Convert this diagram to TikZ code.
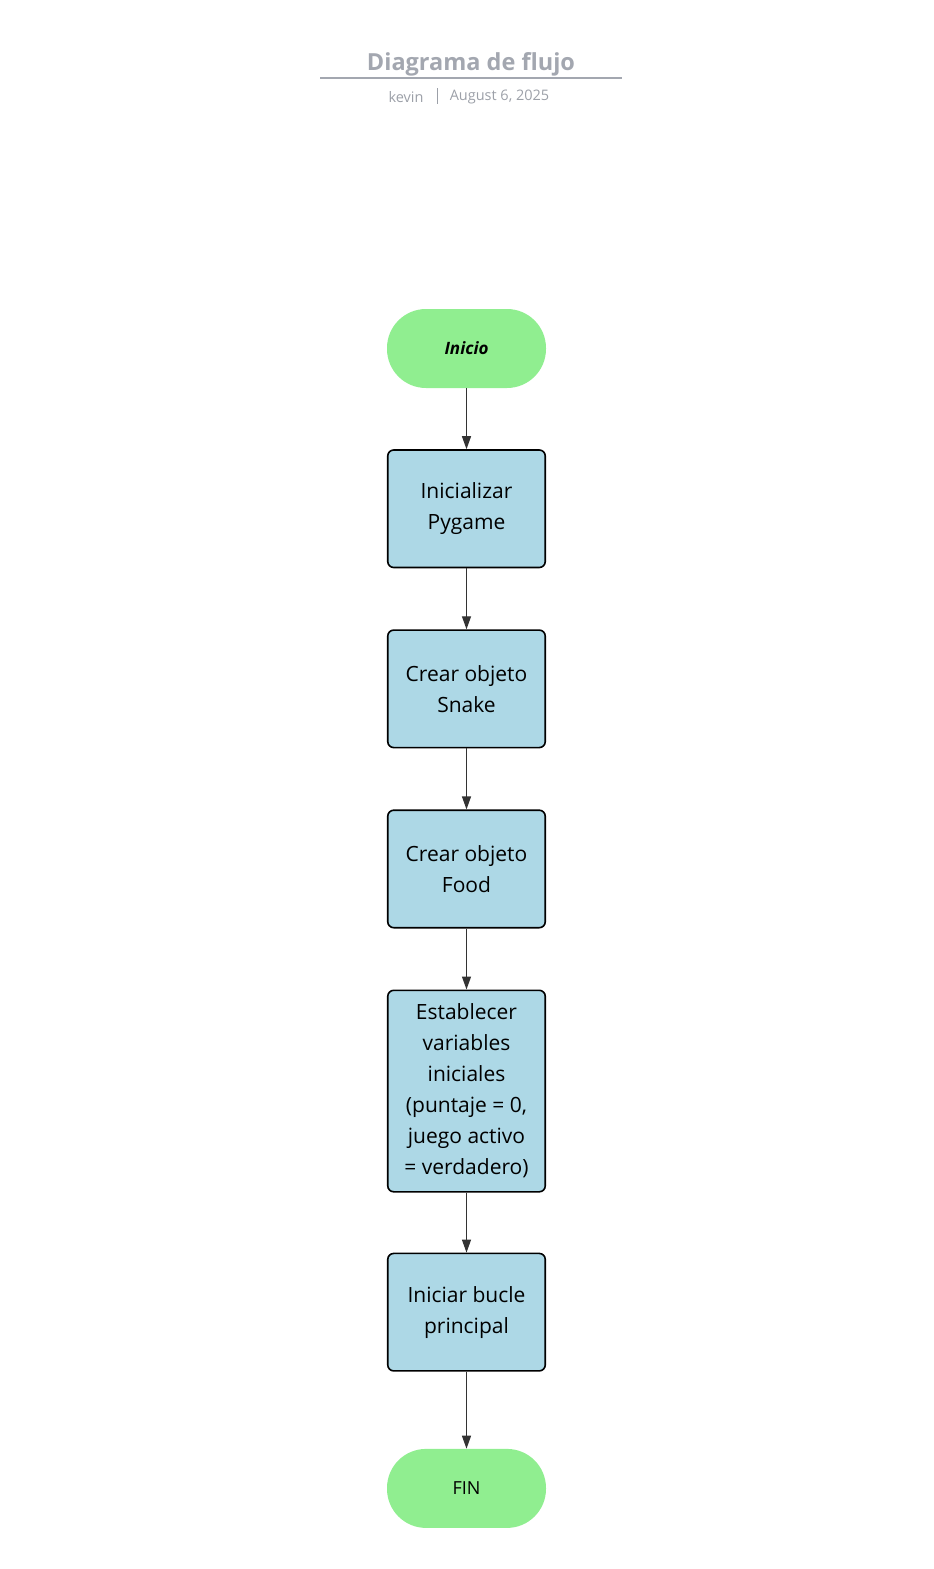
\documentclass[tikz,border=0pt]{standalone}
\usepackage{fontspec}
\setmainfont{Open Sans}
\usetikzlibrary{positioning,arrows.meta}

\definecolor{termfill}{HTML}{90EE90}
\definecolor{stepfill}{HTML}{ADD8E6}
\definecolor{headgray}{HTML}{A3A7B0}
\definecolor{metagray}{HTML}{9CA0A8}
\definecolor{arrowgray}{HTML}{333333}

\begin{document}
\begin{tikzpicture}[x=1pt, y=1pt,
  terminal/.style={fill=termfill, shape=rectangle, rounded corners=39pt, minimum width=159pt, minimum height=79pt, font=\fontsize{18}{20}\selectfont},
  stepbox/.style={fill=stepfill, draw=black, line width=1.6pt, shape=rectangle, rounded corners=6pt, minimum width=157.5pt, minimum height=117.5pt, align=center, font=\fontsize{21}{31}\selectfont},
  flow/.style={draw=arrowgray, line width=1.2pt, -{Triangle[length=13pt, width=9pt]}},
  node distance=61pt]
\useasboundingbox (0,0) rectangle (934,-1569);

% header
\node[text=headgray, font=\fontsize{23.5}{28}\selectfont\bfseries] (title) at (471,-64) {Diagrama de flujo};
\draw[headgray, line width=1.5pt] (320,-78) -- (622,-78);
\node[text=metagray, font=\fontsize{14.5}{16}\selectfont] (author) at (406,-97) {kevin};
\node[text=metagray, font=\fontsize{14.5}{16}\selectfont] (date) at (499.5,-97) {August 6, 2025};
\draw[metagray, line width=0.8pt] (437,-88) -- (437,-104);

% flow
\node[terminal, font=\fontsize{17}{20}\selectfont\bfseries\itshape] (inicio) at (466.5,-348.5) {Inicio};
\node[stepbox, below=of inicio] (pygame) {Inicializar\\Pygame};
\node[stepbox, below=of pygame] (snake) {Crear objeto\\Snake};
\node[stepbox, below=of snake] (food) {Crear objeto\\Food};
\node[stepbox, below=of food, minimum height=201.5pt] (vars) {Establecer\\variables\\iniciales\\(puntaje = 0,\\juego activo\\= verdadero)};
\node[stepbox, below=60pt of vars] (bucle) {Iniciar bucle\\principal};
\node[terminal, below=77pt of bucle] (fin) {FIN};

\draw[flow] (inicio) -- (pygame);
\draw[flow] (pygame) -- (snake);
\draw[flow] (snake) -- (food);
\draw[flow] (food) -- (vars);
\draw[flow] (vars) -- (bucle);
\draw[flow] (bucle) -- (fin);
\end{tikzpicture}
\end{document}
